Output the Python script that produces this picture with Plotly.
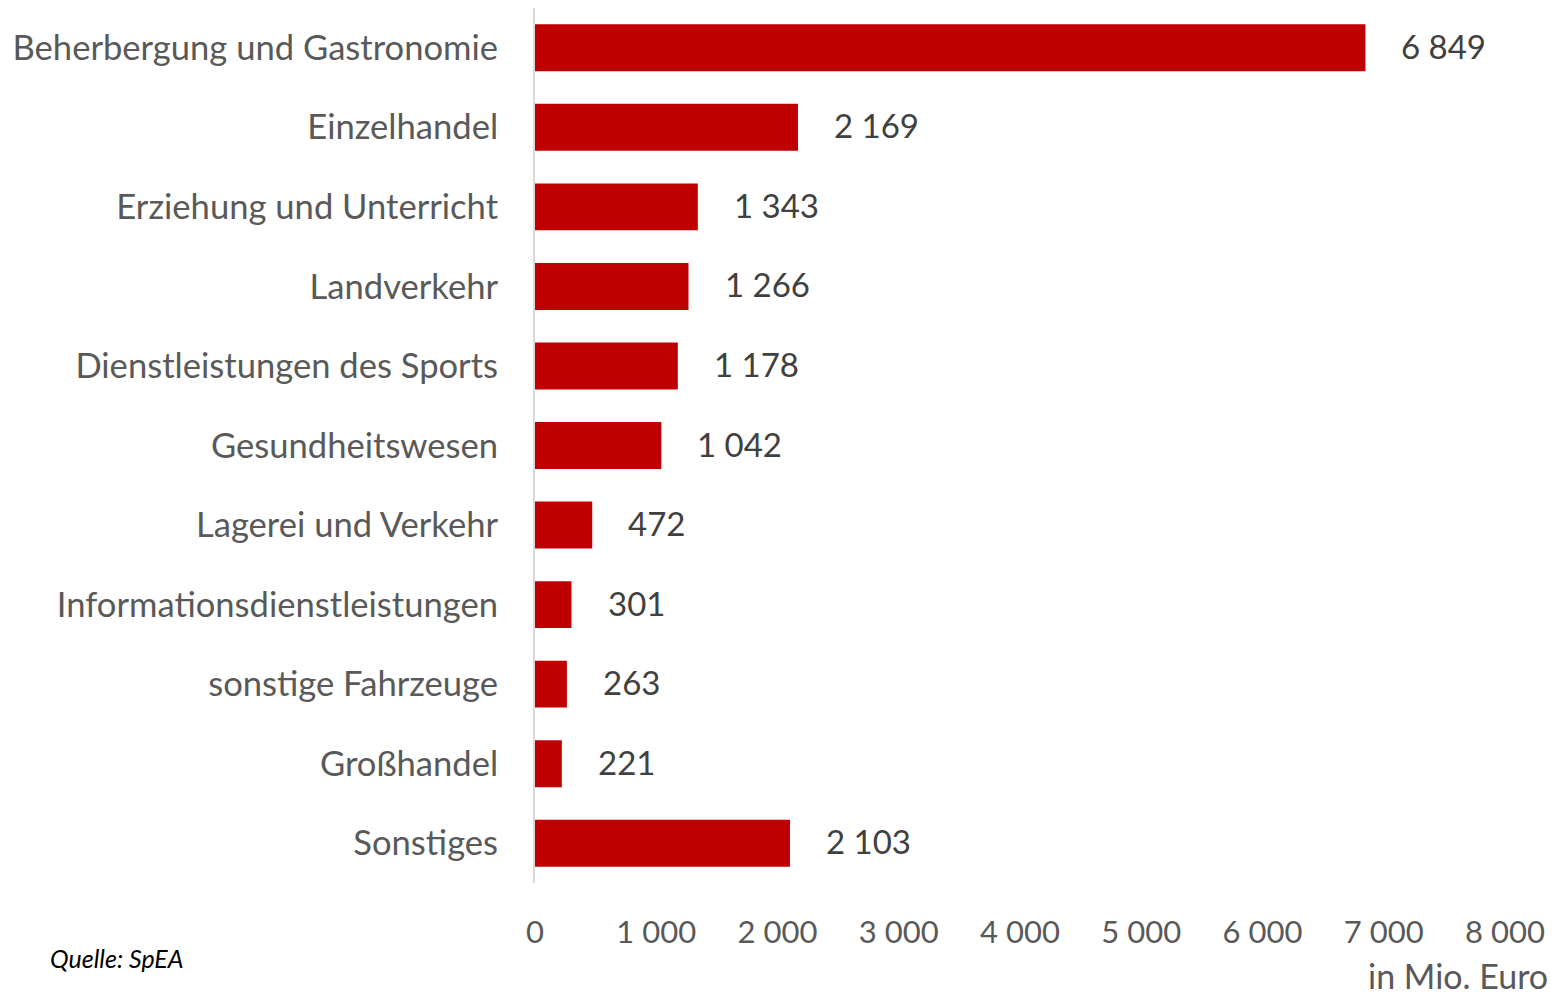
import plotly.graph_objects as go

categories = [
    "Beherbergung und Gastronomie",
    "Einzelhandel",
    "Erziehung und Unterricht",
    "Landverkehr",
    "Dienstleistungen des Sports",
    "Gesundheitswesen",
    "Lagerei und Verkehr",
    "Informationsdienstleistungen",
    "sonstige Fahrzeuge",
    "Großhandel",
    "Sonstiges",
]
values = [6849, 2169, 1343, 1266, 1178, 1042, 472, 301, 263, 221, 2103]
x_ticks = [0, 1000, 2000, 3000, 4000, 5000, 6000, 7000, 8000]

FONT = "Lato"
W, H = 1567, 997
L, R, T, B = 535, 62, 8, 114


def fmt(v):
    return f"{v:,}".replace(",", " ")


fig = go.Figure()
fig.add_trace(go.Bar(
    x=values,
    y=categories,
    orientation="h",
    marker=dict(color="#c00000", line=dict(width=0)),
    hoverinfo="skip",
))

annotations = []
for c, v in zip(categories, values):
    annotations.append(dict(
        x=v, y=c, xref="x", yref="y", text=fmt(v), showarrow=False,
        xanchor="left", yanchor="middle", xshift=34, yshift=2,
        font=dict(family=FONT, size=33, color="#404040"),
    ))

plot_w = W - L - R
annotations.append(dict(
    x=1, y=0, xref="paper", yref="paper", text="in Mio. Euro", showarrow=False,
    xanchor="right", yanchor="middle", xshift=45, yshift=-92,
    font=dict(family=FONT, size=34, color="#595959"),
))
annotations.append(dict(
    x=(48 - L) / plot_w, y=0, xref="paper", yref="paper",
    text="<i>Quelle: SpEA</i>", showarrow=False,
    xanchor="left", yanchor="middle", yshift=-75,
    font=dict(family=FONT, size=25, color="#000000"),
))

fig.update_layout(
    width=W, height=H,
    margin=dict(l=L, r=R, t=T, b=B),
    paper_bgcolor="white", plot_bgcolor="white",
    bargap=0.41,
    showlegend=False,
    annotations=annotations,
    xaxis=dict(
        range=[0, 8000],
        tickvals=x_ticks,
        ticktext=[fmt(t) for t in x_ticks],
        showgrid=False, zeroline=False, showline=False,
        ticks="",
        ticklabelstandoff=28,
        tickfont=dict(family=FONT, size=31, color="#595959"),
        fixedrange=True,
        automargin=False,
    ),
    yaxis=dict(
        categoryorder="array",
        categoryarray=categories,
        autorange="reversed",
        showgrid=False, zeroline=False,
        showline=True, linecolor="#d9d9d9", linewidth=2,
        ticks="",
        ticklabelstandoff=28,
        tickfont=dict(family=FONT, size=34.6, color="#595959"),
        fixedrange=True,
        automargin=False,
    ),
)

fig.write_html(
    "out.html",
    config={"displayModeBar": False},
    post_script="document.body.style.margin='0';document.body.style.overflow='hidden';",
)
